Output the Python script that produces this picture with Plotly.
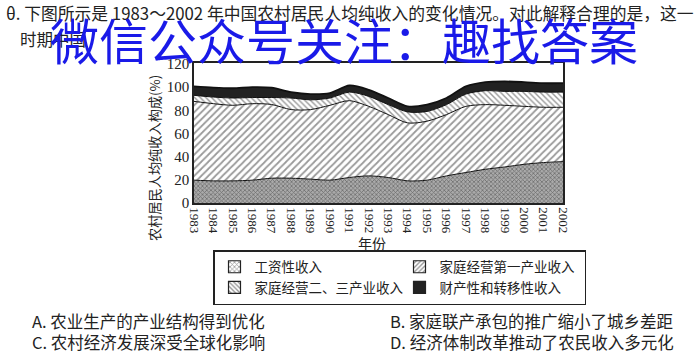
import plotly.graph_objects as go

years = list(range(1983, 2003))
wage = [19.7, 19.1, 19.1, 19.7, 21.4, 21.4, 20.6, 19.7, 22.0, 23.4,
        22.0, 19.1, 19.7, 23.4, 26.3, 29.1, 31.1, 33.4, 34.9, 35.7]
primary = [68.0, 66.6, 65.2, 66.0, 63.6, 59.2, 60.0, 64.6, 66.3, 60.0,
           54.3, 50.0, 50.9, 52.9, 57.1, 55.8, 53.2, 50.0, 47.7, 46.9]
secondary = [5.2, 5.7, 6.3, 5.3, 6.0, 10.0, 8.4, 6.3, 7.4, 8.6,
             8.6, 9.5, 8.4, 8.6, 10.6, 12.0, 12.0, 12.9, 13.1, 13.1]
prop = [7.7, 8.1, 8.4, 9.0, 8.5, 5.1, 5.0, 4.3, 5.7, 5.7,
        5.7, 4.8, 5.9, 5.7, 6.6, 7.4, 8.6, 8.0, 7.7, 7.7]
names = ["工资性收入", "家庭经营第一产业收入", "家庭经营二、三产业收入", "财产性和转移性收入"]
yticks = [0, 20, 40, 60, 80, 100, 120]
year_labels = [str(y) for y in years]

W, H = 700, 355
L, R, T, B = 194, 563, 63, 203
PW, PH = R - L, B - T

def px(x):
    return (x - L) / PW

def py(y):
    return (B - y) / PH

CJK = "Noto Sans CJK SC"
SERIF = "Liberation Serif"

fig = go.Figure()
patterns = [
    dict(shape="x", fgcolor="#333", bgcolor="#aaa", size=3, solidity=0.45),
    dict(shape="/", fgcolor="#333", bgcolor="#fff", size=5, solidity=0.35),
    dict(shape="\\", fgcolor="#333", bgcolor="#fff", size=4, solidity=0.35),
    None,
]
series = [wage, primary, secondary, prop]
for i, (nm, vals) in enumerate(zip(names, series)):
    kw = dict(
        x=years, y=vals, name=nm, mode="lines", stackgroup="one", showlegend=False,
        line=dict(color="#111", width=1.8 if i == 3 else 1, shape="spline", smoothing=0.8),
    )
    if patterns[i] is not None:
        kw["fillpattern"] = patterns[i]
        kw["fillcolor"] = patterns[i]["bgcolor"]
    else:
        kw["fillcolor"] = "#222"
    fig.add_trace(go.Scatter(**kw))

# legend entries (square pattern swatches)
leg_patterns = [
    dict(shape="x", fgcolor="#222", bgcolor="#fff", size=4, solidity=0.4),
    dict(shape="/", fgcolor="#222", bgcolor="#fff", size=4, solidity=0.4),
    dict(shape="\\", fgcolor="#222", bgcolor="#fff", size=4, solidity=0.4),
    None,
]
for i, nm in enumerate(names):
    mk = dict(color="#222" if leg_patterns[i] is None else "#fff",
              line=dict(color="#222", width=1.2))
    if leg_patterns[i] is not None:
        mk["pattern"] = leg_patterns[i]
    fig.add_trace(go.Bar(x=[None], y=[None], name=nm, marker=mk, showlegend=True))

fig.update_layout(
    width=W, height=H,
    margin=dict(l=L, r=W - R, t=T, b=H - B),
    paper_bgcolor="white", plot_bgcolor="white",
    showlegend=True,
    legend=dict(
        orientation="h", x=213 / W, y=1 - 250 / H, xanchor="left", yanchor="top",
        xref="container", yref="container",
        entrywidth=140, bordercolor="#222", borderwidth=1.5,
        font=dict(family=CJK, size=13.5, color="#222"),
        traceorder="normal", itemwidth=30,
        tracegroupgap=0,
    ),
    xaxis=dict(
        range=[1983, 2002], tickmode="array", tickvals=years, ticktext=year_labels,
        tickangle=90, tickfont=dict(family=SERIF, size=13, color="#222"),
        showgrid=False, zeroline=False, showline=True, linecolor="#222", linewidth=1.5,
        mirror=True, ticks="",
    ),
    yaxis=dict(
        range=[0, 120.8], tickmode="array", tickvals=yticks,
        tickfont=dict(family=SERIF, size=15, color="#222"),
        showgrid=False, zeroline=False, showline=True, linecolor="#222", linewidth=1.5,
        mirror=True, ticks="",
    ),
)

ann = []
def add(text, x, y, size, color="#222", xanchor="left", family=CJK, angle=0):
    ann.append(dict(text=text, x=px(x), y=py(y), xref="paper", yref="paper",
                    showarrow=False, xanchor=xanchor, yanchor="middle",
                    font=dict(family=family, size=size, color=color), textangle=angle))

add("θ. 下图所示是 1983～2002 年中国农村居民人均纯收入的变化情况。对此解释合理的是，这一", 4, 13, 16.8)
add("时期中国", 18, 39, 16.5)
add("农村居民人均纯收入构成(%)", 154, 158, 13.2, xanchor="center", angle=-90)
add("年份", 372, 243, 14, xanchor="center")
add("A. 农业生产的产业结构得到优化", 30, 321, 16.5)
add("B. 家庭联产承包的推广缩小了城乡差距", 388, 321, 16.5)
add("C. 农村经济发展深受全球化影响", 30, 342, 16.5)
add("D. 经济体制改革推动了农民收入多元化", 388, 342, 16.5)
add("微信公众号关注：趣找答案", 344, 38, 49, color="#1a1ae8", xanchor="center")
fig.update_layout(annotations=ann)

fig.write_html("out.html")
